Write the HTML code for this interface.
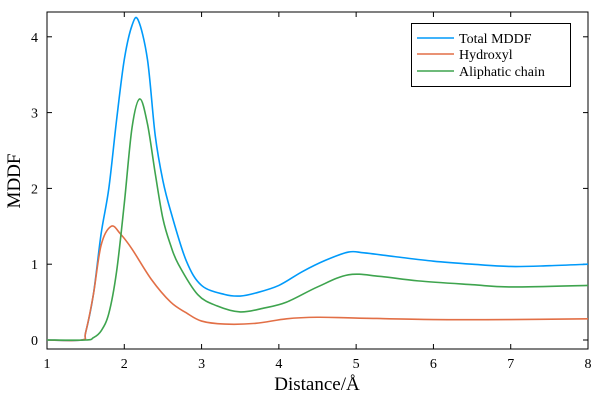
<!DOCTYPE html><html><head><style>body{margin:0;background:#fff}svg{display:block}text{font-family:"Liberation Serif",serif;fill:#000}</style></head><body>
<svg id="s" width="600" height="400" xmlns="http://www.w3.org/2000/svg">
<rect x="47" y="12" width="541" height="337" fill="none" stroke="#000" stroke-width="1"/>
<g id="ticks" stroke="#000" stroke-width="1"></g>
<g id="lab" font-size="14" text-anchor="middle"></g>
<g id="lines" fill="none" stroke-width="1.6" stroke-linejoin="round"></g>
<text x="317" y="390" font-size="19" text-anchor="middle">Distance/Å</text>
<text transform="translate(20,181) rotate(-90)" font-size="19" text-anchor="middle">MDDF</text>
<rect x="411.5" y="23.5" width="159" height="63" fill="#fff" stroke="#000"/>
<line x1="417" y1="38" x2="454" y2="38" stroke="#009AFA" stroke-width="1.6"/>
<line x1="417" y1="54" x2="454" y2="54" stroke="#E26F46" stroke-width="1.6"/>
<line x1="417" y1="71" x2="454" y2="71" stroke="#3EA44E" stroke-width="1.6"/>
<text x="459" y="43" font-size="14">Total MDDF</text>
<text x="459" y="59" font-size="14">Hydroxyl</text>
<text x="459" y="76" font-size="14">Aliphatic chain</text>
</svg>
<script>
const X=v=>47+(v-1)*(541/7),Y=v=>340-v*75.8;
let t='',l='';
for(let i=1;i<=8;i++){const x=X(i);t+=`<line x1="${x}" y1="349" x2="${x}" y2="344"/><line x1="${x}" y1="12" x2="${x}" y2="17"/>`;l+=`<text x="${x}" y="368">${i}</text>`;}
for(let i=0;i<=4;i++){const y=Y(i);t+=`<line x1="47" y1="${y}" x2="52" y2="${y}"/><line x1="588" y1="${y}" x2="583" y2="${y}"/>`;l+=`<text x="38" y="${y+5}" text-anchor="end">${i}</text>`;}
document.getElementById('ticks').innerHTML=t;document.getElementById('lab').innerHTML=l;
const T=[[1,0],[1.45,0],[1.5,0.1],[1.6,0.6],[1.7,1.4],[1.8,2.0],[1.9,2.9],[2.0,3.7],[2.1,4.15],[2.18,4.22],[2.3,3.7],[2.4,2.7],[2.5,2.1],[2.6,1.7],[2.8,1.05],[3.0,0.72],[3.3,0.6],[3.5,0.58],[3.7,0.62],[4,0.72],[4.3,0.9],[4.6,1.05],[4.9,1.16],[5.1,1.15],[5.5,1.1],[6,1.04],[6.5,1.0],[7,0.97],[7.5,0.98],[8,1.0]];
const H=[[1,0],[1.45,0],[1.5,0.1],[1.6,0.6],[1.7,1.25],[1.83,1.5],[1.95,1.4],[2.1,1.2],[2.35,0.8],[2.6,0.5],[2.8,0.36],[3.0,0.25],[3.3,0.21],[3.7,0.22],[4.1,0.28],[4.5,0.3],[5,0.29],[6,0.27],[7,0.27],[8,0.28]];
const A=[[1,0],[1.5,0],[1.6,0.03],[1.7,0.12],[1.8,0.35],[1.9,0.9],[2.0,1.8],[2.1,2.8],[2.2,3.18],[2.3,2.85],[2.4,2.2],[2.5,1.6],[2.6,1.25],[2.7,1.0],[2.95,0.6],[3.2,0.45],[3.5,0.37],[3.8,0.42],[4.1,0.5],[4.5,0.7],[4.9,0.86],[5.3,0.84],[5.8,0.78],[6.5,0.73],[7,0.7],[8,0.72]];
function P(d){let p='M'+X(d[0][0])+','+Y(d[0][1]);for(let i=0;i<d.length-1;i++){const p0=d[Math.max(i-1,0)],p1=d[i],p2=d[i+1],p3=d[Math.min(i+2,d.length-1)];
const c1=[X(p1[0])+(X(p2[0])-X(p0[0]))/6,Y(p1[1])+(Y(p2[1])-Y(p0[1]))/6],c2=[X(p2[0])-(X(p3[0])-X(p1[0]))/6,Y(p2[1])-(Y(p3[1])-Y(p1[1]))/6];
p+=`C${c1},${c2},${X(p2[0])},${Y(p2[1])}`;}return p;}
document.getElementById('lines').innerHTML=`<path d="${P(T)}" stroke="#009AFA"/><path d="${P(H)}" stroke="#E26F46"/><path d="${P(A)}" stroke="#3EA44E"/>`;
</script></body></html>
